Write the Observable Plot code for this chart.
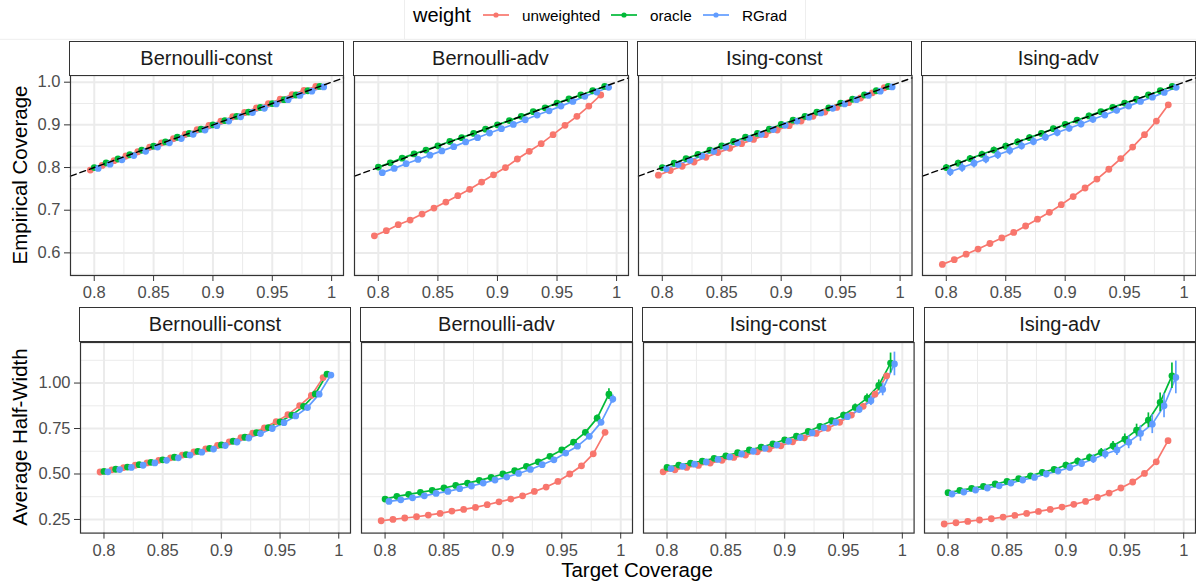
<!DOCTYPE html>
<html><head><meta charset="utf-8">
<script src="https://cdn.jsdelivr.net/npm/d3@7"></script>
<script src="https://cdn.jsdelivr.net/npm/@observablehq/plot@0.6"></script>
<style>
body{margin:0;background:#fff;font-family:"Liberation Sans",Arial,Helvetica,sans-serif;}
#fig{position:relative;width:1196px;height:587px;overflow:hidden;background:#fff;}
.strip{position:absolute;box-sizing:border-box;border:1.2px solid #333333;background:#fff;color:#1A1A1A;font-size:20px;text-align:center;white-space:nowrap;}
</style></head><body><div id="fig"></div>
<script>
// ---------------- data ----------------
const weights = ["unweighted", "oracle", "RGrad"];
const weightColors = ["#F8766D", "#00BA38", "#619CFF"];
const panelNames = ["Bernoulli-const", "Bernoulli-adv", "Ising-const", "Ising-adv"];
const targetCoverage = [0.80,0.81,0.82,0.83,0.84,0.85,0.86,0.87,0.88,0.89,0.90,0.91,0.92,0.93,0.94,0.95,0.96,0.97,0.98,0.99];
const xTicks = [0.8, 0.85, 0.9, 0.95, 1];
const xMinorTicks = [0.825, 0.875, 0.925, 0.975];
const covTicks = [0.6, 0.7, 0.8, 0.9, 1.0];
const covMinorTicks = [0.55, 0.65, 0.75, 0.85, 0.95];
const hwTicks = [0.25, 0.5, 0.75, 1.0];
const hwMinorTicks = [0.375, 0.625, 0.875, 1.125];

// Empirical coverage
const covBernConstUnw = [0.794,0.805,0.816,0.827,0.837,0.848,0.858,0.868,0.878,0.889,0.899,0.909,0.919,0.929,0.940,0.950,0.960,0.971,0.981,0.990];
const covBernConstOrc = [0.800,0.811,0.820,0.830,0.841,0.850,0.860,0.871,0.880,0.890,0.900,0.910,0.920,0.930,0.941,0.950,0.959,0.970,0.980,0.990];
const covBernConstRG  = [0.798,0.808,0.818,0.828,0.838,0.848,0.858,0.868,0.878,0.888,0.898,0.909,0.919,0.929,0.939,0.949,0.959,0.969,0.979,0.989];
const covBernAdvUnw = [0.640,0.652,0.666,0.677,0.691,0.705,0.719,0.734,0.749,0.766,0.783,0.800,0.820,0.838,0.856,0.877,0.899,0.920,0.944,0.970];
const covBernAdvOrc = [0.801,0.811,0.822,0.832,0.841,0.851,0.861,0.870,0.880,0.890,0.900,0.910,0.920,0.931,0.940,0.951,0.961,0.970,0.980,0.990];
const covBernAdvRG  = [0.788,0.798,0.809,0.819,0.829,0.839,0.849,0.860,0.870,0.881,0.891,0.901,0.912,0.923,0.933,0.944,0.955,0.967,0.977,0.988];
const covIsingConstUnw = [0.782,0.793,0.803,0.813,0.824,0.835,0.845,0.856,0.866,0.877,0.888,0.898,0.909,0.920,0.930,0.941,0.952,0.963,0.975,0.987];
const covIsingConstOrc = [0.800,0.810,0.821,0.831,0.841,0.851,0.861,0.871,0.880,0.890,0.901,0.911,0.920,0.930,0.940,0.951,0.960,0.970,0.980,0.990];
const covIsingConstRG  = [0.797,0.807,0.817,0.827,0.838,0.848,0.858,0.868,0.878,0.889,0.899,0.909,0.918,0.928,0.939,0.949,0.959,0.969,0.979,0.989];
const covIsingAdvUnw = [0.573,0.584,0.597,0.609,0.622,0.635,0.648,0.663,0.679,0.695,0.713,0.732,0.752,0.773,0.796,0.821,0.848,0.877,0.909,0.947];
const covIsingAdvOrc = [0.800,0.810,0.821,0.831,0.841,0.850,0.860,0.870,0.880,0.891,0.901,0.911,0.921,0.931,0.941,0.951,0.960,0.970,0.980,0.990];
const covIsingAdvRG  = [0.790,0.800,0.810,0.820,0.830,0.840,0.851,0.861,0.871,0.882,0.892,0.902,0.913,0.923,0.934,0.944,0.955,0.965,0.976,0.988];

// Coverage error-bar half-lengths
const covErrIsingConstOrc = [0.005,0.005,0.005,0.005,0.005,0.005,0.005,0.005,0.005,0.005,0.004,0.004,0.004,0.004,0.004,0.004,0.003,0.003,0.003,0.002];
const covErrIsingConstRG  = [0.006,0.006,0.006,0.006,0.006,0.006,0.006,0.006,0.006,0.005,0.005,0.005,0.005,0.005,0.005,0.004,0.004,0.004,0.003,0.003];
const covErrIsingAdvOrc = [0.007,0.007,0.007,0.007,0.007,0.007,0.007,0.007,0.006,0.006,0.006,0.006,0.006,0.005,0.005,0.005,0.004,0.004,0.003,0.003];
const covErrIsingAdvRG  = [0.011,0.011,0.011,0.011,0.011,0.011,0.010,0.010,0.010,0.010,0.009,0.009,0.009,0.008,0.008,0.007,0.007,0.006,0.005,0.004];

// Average half-width
const hwBernConstUnw = [0.511,0.523,0.535,0.548,0.561,0.575,0.589,0.604,0.621,0.638,0.657,0.677,0.700,0.725,0.754,0.788,0.826,0.876,0.932,1.030];
const hwBernConstOrc = [0.514,0.526,0.538,0.551,0.564,0.578,0.592,0.607,0.624,0.641,0.660,0.680,0.702,0.727,0.755,0.787,0.824,0.872,0.940,1.049];
const hwBernConstRG  = [0.512,0.524,0.536,0.548,0.561,0.575,0.589,0.604,0.620,0.637,0.656,0.676,0.698,0.722,0.750,0.782,0.819,0.865,0.939,1.044];
const hwBernAdvUnw = [0.243,0.250,0.258,0.265,0.274,0.283,0.296,0.305,0.316,0.331,0.347,0.362,0.380,0.404,0.428,0.459,0.500,0.545,0.611,0.729];
const hwBernAdvOrc = [0.362,0.377,0.388,0.399,0.410,0.423,0.437,0.450,0.465,0.481,0.500,0.518,0.542,0.567,0.597,0.632,0.675,0.729,0.807,0.939];
const hwBernAdvRG  = [0.349,0.358,0.369,0.380,0.393,0.404,0.419,0.434,0.450,0.467,0.483,0.503,0.525,0.551,0.578,0.615,0.653,0.707,0.784,0.912];
const hwIsingConstUnw = [0.512,0.523,0.536,0.547,0.560,0.575,0.591,0.604,0.622,0.637,0.655,0.677,0.699,0.723,0.751,0.784,0.824,0.872,0.939,1.040];
const hwIsingConstOrc = [0.536,0.549,0.560,0.571,0.586,0.600,0.617,0.632,0.648,0.666,0.688,0.708,0.734,0.762,0.793,0.824,0.866,0.917,0.987,1.110];
const hwIsingConstRG  = [0.530,0.542,0.554,0.566,0.580,0.594,0.610,0.625,0.641,0.659,0.680,0.700,0.726,0.754,0.784,0.815,0.855,0.903,0.965,1.105];
const hwIsingAdvUnw = [0.225,0.232,0.239,0.247,0.254,0.263,0.272,0.283,0.294,0.305,0.318,0.333,0.349,0.371,0.395,0.423,0.456,0.503,0.567,0.683];
const hwIsingAdvOrc = [0.397,0.410,0.421,0.432,0.445,0.459,0.474,0.490,0.509,0.525,0.549,0.571,0.591,0.619,0.655,0.692,0.741,0.796,0.894,1.040];
const hwIsingAdvRG  = [0.390,0.401,0.412,0.423,0.435,0.450,0.467,0.481,0.500,0.516,0.536,0.558,0.582,0.610,0.632,0.675,0.723,0.774,0.875,1.031];

// Half-width error-bar half-lengths
const hwErrBernConstOrc = [0.003,0.003,0.003,0.003,0.003,0.003,0.003,0.003,0.003,0.003,0.004,0.004,0.004,0.004,0.005,0.005,0.006,0.007,0.009,0.014];
const hwErrBernConstRG  = [0.003,0.003,0.003,0.003,0.003,0.003,0.003,0.003,0.003,0.003,0.004,0.004,0.004,0.004,0.005,0.005,0.006,0.007,0.009,0.014];
const hwErrBernAdvOrc = [0.004,0.004,0.004,0.004,0.004,0.004,0.005,0.005,0.005,0.005,0.006,0.006,0.007,0.007,0.008,0.009,0.011,0.013,0.018,0.030];
const hwErrBernAdvRG  = [0.003,0.003,0.003,0.003,0.004,0.004,0.004,0.004,0.005,0.005,0.005,0.006,0.006,0.007,0.007,0.008,0.009,0.011,0.015,0.022];
const hwErrIsingConstOrc = [0.006,0.006,0.006,0.007,0.007,0.007,0.008,0.008,0.009,0.009,0.010,0.011,0.012,0.013,0.014,0.016,0.019,0.023,0.030,0.055];
const hwErrIsingConstRG  = [0.007,0.007,0.007,0.008,0.008,0.008,0.009,0.009,0.010,0.011,0.012,0.013,0.014,0.015,0.017,0.019,0.022,0.027,0.035,0.065];
const hwErrIsingAdvOrc = [0.008,0.008,0.009,0.009,0.010,0.010,0.011,0.012,0.013,0.014,0.015,0.017,0.019,0.021,0.024,0.028,0.033,0.040,0.052,0.070];
const hwErrIsingAdvRG  = [0.010,0.010,0.011,0.011,0.012,0.013,0.014,0.015,0.016,0.018,0.020,0.022,0.024,0.027,0.031,0.036,0.043,0.052,0.066,0.090];

// ---------------- assemble ----------------
const coverageSeries = [
  [[covBernConstUnw, null], [covBernConstOrc, null], [covBernConstRG, null]],
  [[covBernAdvUnw, null], [covBernAdvOrc, null], [covBernAdvRG, null]],
  [[covIsingConstUnw, null], [covIsingConstOrc, covErrIsingConstOrc], [covIsingConstRG, covErrIsingConstRG]],
  [[covIsingAdvUnw, null], [covIsingAdvOrc, covErrIsingAdvOrc], [covIsingAdvRG, covErrIsingAdvRG]]
];
const halfWidthSeries = [
  [[hwBernConstUnw, null], [hwBernConstOrc, hwErrBernConstOrc], [hwBernConstRG, hwErrBernConstRG]],
  [[hwBernAdvUnw, null], [hwBernAdvOrc, hwErrBernAdvOrc], [hwBernAdvRG, hwErrBernAdvRG]],
  [[hwIsingConstUnw, null], [hwIsingConstOrc, hwErrIsingConstOrc], [hwIsingConstRG, hwErrIsingConstRG]],
  [[hwIsingAdvUnw, null], [hwIsingAdvOrc, hwErrIsingAdvOrc], [hwIsingAdvRG, hwErrIsingAdvRG]]
];
function toRows(panelSeries) {
  const rows = [];
  panelSeries.forEach(([vals, errs], wi) => {
    vals.forEach((v, i) => rows.push({weight: weights[wi], target: targetCoverage[i], value: v, err: errs ? errs[i] : 0}));
  });
  return rows;
}

// ---------------- layout ----------------
const FONT = '"Liberation Sans", Arial, Helvetica, sans-serif';
const fig = document.getElementById("fig");
const xDomain = [0.78, 1.01];
const dodge = {unweighted: -0.0033, oracle: 0, RGrad: 0.0033};
const dx = d => d.target + dodge[d.weight];

const rowsLayout = [
  {series: coverageSeries, stripTop: 40.7, top: 75, bottom: 275,
   xs: [[70, 343], [353.5, 627.5], [637.5, 911], [921.5, 1195]],
   yDomain: [0.547, 1.0157], ticks: covTicks, minor: covMinorTicks, fmt: d => d.toFixed(1), abline: true},
  {series: halfWidthSeries, stripTop: 306.7, top: 341.7, bottom: 532.3,
   xs: [[80, 350], [361, 632], [642.7, 913.3], [924.3, 1195.3]],
   yDomain: [0.175, 1.223], ticks: hwTicks, minor: hwMinorTicks, fmt: d => d.toFixed(2), abline: false}
];

rowsLayout.forEach(R => {
  R.xs.forEach(([pl, pr], col) => {
    const data = toRows(R.series[col]);
    const ml = col === 0 ? pl : 14, mr = 2, mt = 1, mb = 34;
    const w = ml + (pr - pl) + mr, h = mt + (R.bottom - R.top) + mb;
    const marks = [
      Plot.ruleX(xMinorTicks, {stroke: "#EBEBEB", strokeWidth: 1}),
      Plot.ruleY(R.minor, {stroke: "#EBEBEB", strokeWidth: 1}),
      Plot.ruleX(xTicks, {stroke: "#EBEBEB", strokeWidth: 2}),
      Plot.ruleY(R.ticks, {stroke: "#EBEBEB", strokeWidth: 2}),
      Plot.line(data, {x: dx, y: "value", z: "weight", stroke: "weight", strokeWidth: 1.7}),
      Plot.dot(data, {x: dx, y: "value", fill: "weight", r: 3.4}),
      Plot.ruleX(data.filter(d => d.err > 0), {x: dx, y1: d => d.value - d.err, y2: d => d.value + d.err, stroke: "weight", strokeWidth: 1.7})
    ];
    if (R.abline) marks.push(Plot.line(xDomain, {x: d => d, y: d => d, stroke: "#000", strokeWidth: 1.4, strokeDasharray: "6,4"}));
    marks.push(Plot.frame({stroke: "#333333", strokeWidth: 1.2}));
    marks.push(Plot.axisX({ticks: xTicks, tickFormat: d => String(d), tickSize: 6, tickPadding: 5, label: null, stroke: "#333333", fill: "#4D4D4D", fontSize: 16.5}));
    if (col === 0) marks.push(Plot.axisY({ticks: R.ticks, tickFormat: R.fmt, tickSize: 6, tickPadding: 4, label: null, stroke: "#333333", fill: "#4D4D4D", fontSize: 16.5}));
    const svg = Plot.plot({
      width: w, height: h, marginLeft: ml, marginRight: mr, marginTop: mt, marginBottom: mb,
      x: {domain: xDomain},
      y: col === 0 ? {domain: R.yDomain} : {domain: R.yDomain, axis: null},
      color: {domain: weights, range: weightColors},
      style: {fontSize: "16.5px", fontFamily: FONT, background: "transparent", overflow: "visible"},
      marks
    });
    svg.style.position = "absolute";
    svg.style.left = (pl - ml) + "px";
    svg.style.top = (R.top - mt) + "px";
    fig.appendChild(svg);
    const strip = document.createElement("div");
    strip.className = "strip";
    strip.textContent = panelNames[col];
    const sh = R.top - R.stripTop + 0.6;
    Object.assign(strip.style, {left: (pl - 0.6) + "px", top: R.stripTop + "px", width: (pr - pl + 1.2) + "px", height: sh + "px", lineHeight: (sh - 2.4) + "px", fontFamily: FONT});
    fig.appendChild(strip);
  });
});

// ---------------- titles & legend ----------------
const ov = d3.select(fig).append("svg")
  .attr("width", 1196).attr("height", 587)
  .style("position", "absolute").style("left", "0px").style("top", "0px")
  .style("pointer-events", "none").style("font-family", FONT);
ov.append("line").attr("x1", 0).attr("x2", 1196).attr("y1", 39.3).attr("y2", 39.3).attr("stroke", "#EEEEEE").attr("stroke-width", 1);
ov.append("rect").attr("x", 404.5).attr("y", -2).attr("width", 401).attr("height", 41.3).attr("fill", "#fff").attr("stroke", "#EEEEEE");
ov.append("text").attr("transform", "translate(27,175) rotate(-90)").attr("text-anchor", "middle").attr("font-size", 20.5).attr("fill", "#000").text("Empirical Coverage");
ov.append("text").attr("transform", "translate(27,437) rotate(-90)").attr("text-anchor", "middle").attr("font-size", 20.5).attr("fill", "#000").text("Average Half-Width");
ov.append("text").attr("x", 637).attr("y", 577).attr("text-anchor", "middle").attr("font-size", 20.5).attr("fill", "#000").text("Target Coverage");
ov.append("text").attr("x", 413).attr("y", 22).attr("font-size", 20).attr("fill", "#000").text("weight");
const keyX = [483, 611, 703];
weights.forEach((wt, i) => {
  const x0 = keyX[i];
  ov.append("line").attr("x1", x0).attr("x2", x0 + 26).attr("y1", 15).attr("y2", 15).attr("stroke", weightColors[i]).attr("stroke-width", 1.7);
  ov.append("circle").attr("cx", x0 + 13).attr("cy", 15).attr("r", 2.6).attr("fill", weightColors[i]);
  ov.append("text").attr("x", x0 + 39).attr("y", 20.5).attr("font-size", 15.3).attr("fill", "#000").text(wt);
});
</script></body></html>
